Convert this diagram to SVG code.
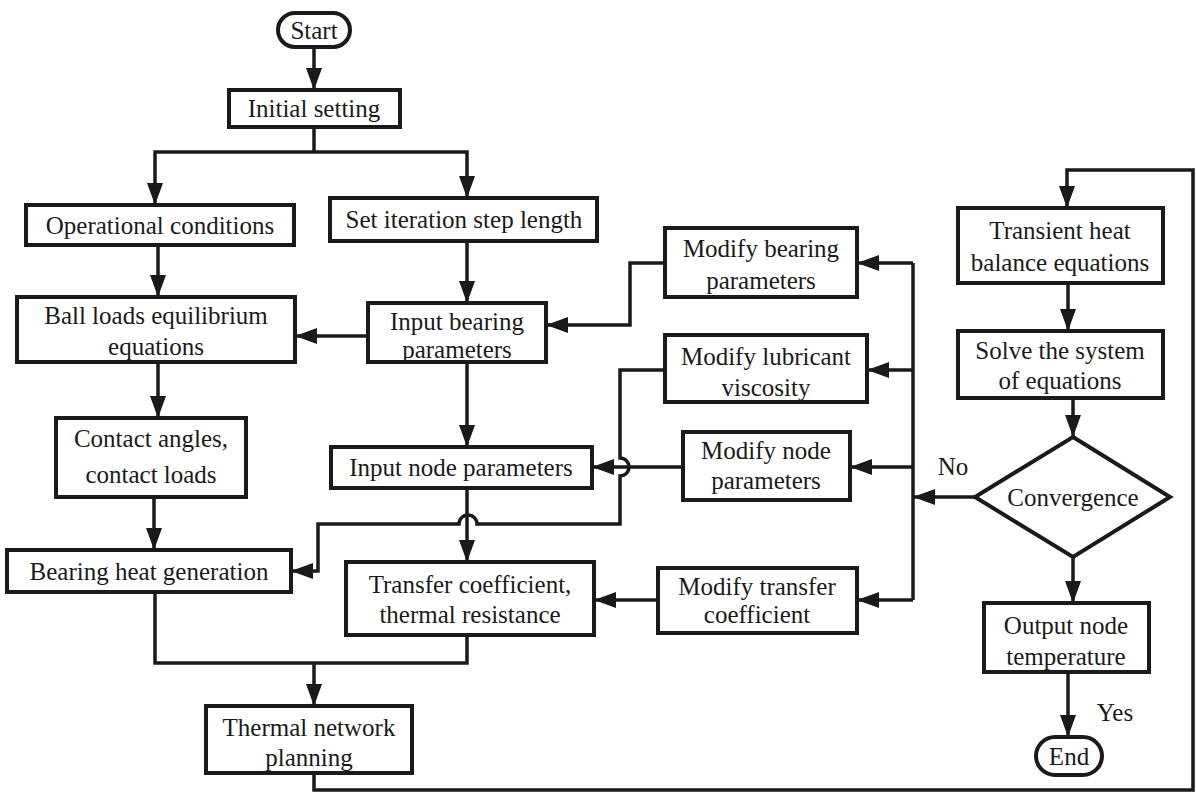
<svg xmlns="http://www.w3.org/2000/svg" width="1197" height="793" viewBox="0 0 1197 793">
<defs>
<style>
.b{fill:#fff;stroke:#1a1a1a;stroke-width:4}
.t{font-family:"Liberation Serif","Times New Roman",serif;font-size:25px;fill:#1a1a1a;text-anchor:middle}
.c{fill:none;stroke:#1a1a1a;stroke-width:3.5}
.a{marker-end:url(#ah)}
</style>
<marker id="ah" markerUnits="userSpaceOnUse" markerWidth="22" markerHeight="16" refX="22" refY="8" orient="auto">
<path d="M0,0 L22,8 L0,16 z" fill="#1a1a1a"/>
</marker>
</defs>
<rect width="1197" height="793" fill="#fff"/>
<g id="connectors">
<path class="c a" d="M314,47 V90"/>
<path class="c" d="M314,127 V152"/>
<path class="c a" d="M314,152 H155 V205"/>
<path class="c a" d="M314,152 H467 V198"/>
<path class="c a" d="M158,245 V297"/>
<path class="c a" d="M467,241 V303"/>
<path class="c a" d="M368,336 H295"/>
<path class="c a" d="M665,263 H630 V325 H546"/>
<path class="c a" d="M467,362 V447"/>
<path class="c a" d="M158,362 V418"/>
<path class="c a" d="M154,497 V550"/>
<path class="c a" d="M665,370 H620 V458 A9,9 0 0 1 620,476 V524 H477 A9,9 0 0 0 459,524 H318 V571 H291"/>
<path class="c a" d="M467,488 V562"/>
<path class="c a" d="M683,467 H592"/>
<path class="c a" d="M658,600 H594"/>
<path class="c" d="M913,263 V600"/>
<path class="c a" d="M975,497 H913"/>
<path class="c a" d="M913,263 H857"/>
<path class="c a" d="M913,370 H867"/>
<path class="c a" d="M913,467 H850"/>
<path class="c a" d="M913,600 H857"/>
<path class="c" d="M155,592 V663 H467 V635"/>
<path class="c a" d="M314,663 V706"/>
<path class="c a" d="M314,773 V790 H1193 V170 H1067 V208"/>
<path class="c a" d="M1068,283 V331"/>
<path class="c a" d="M1073,398 V437"/>
<path class="c a" d="M1073,557 V603"/>
<path class="c a" d="M1068,672 V737"/>
<text class="t" x="953" y="475">No</text>
<text class="t" x="1115" y="721">Yes</text>
</g>
<g id="start"><rect class="b" x="278" y="13" width="72" height="34" rx="17"/><text class="t" x="314" y="39">Start</text></g>
<g id="initial"><rect class="b" x="229" y="90" width="171" height="37"/><text class="t" x="314" y="117">Initial setting</text></g>
<g id="operational"><rect class="b" x="26" y="205" width="268" height="40"/><text class="t" x="160" y="234">Operational conditions</text></g>
<g id="setiter"><rect class="b" x="330" y="198" width="267" height="43"/><text class="t" x="464" y="228">Set iteration step length</text></g>
<g id="ballloads"><rect class="b" x="17" y="297" width="278" height="65"/><text class="t" x="156" y="324">Ball loads equilibrium</text><text class="t" x="156" y="355">equations</text></g>
<g id="inputbearing"><rect class="b" x="368" y="303" width="178" height="59"/><text class="t" x="457" y="330">Input bearing</text><text class="t" x="457" y="358">parameters</text></g>
<g id="modbearing"><rect class="b" x="665" y="228" width="192" height="69"/><text class="t" x="761" y="257">Modify bearing</text><text class="t" x="761" y="289">parameters</text></g>
<g id="modlub"><rect class="b" x="665" y="335" width="202" height="67"/><text class="t" x="766" y="365">Modify lubricant</text><text class="t" x="766" y="396">viscosity</text></g>
<g id="inputnode"><rect class="b" x="331" y="447" width="261" height="41"/><text class="t" x="461" y="476">Input node parameters</text></g>
<g id="modnode"><rect class="b" x="683" y="432" width="167" height="68"/><text class="t" x="766" y="459">Modify node</text><text class="t" x="766" y="489">parameters</text></g>
<g id="contact"><rect class="b" x="56" y="418" width="190" height="79"/><text class="t" x="151" y="447">Contact angles,</text><text class="t" x="151" y="483">contact loads</text></g>
<g id="heatgen"><rect class="b" x="7" y="550" width="284" height="42"/><text class="t" x="149" y="580">Bearing heat generation</text></g>
<g id="transfer"><rect class="b" x="346" y="562" width="248" height="73"/><text class="t" x="470" y="593">Transfer coefficient,</text><text class="t" x="470" y="623">thermal resistance</text></g>
<g id="modtransfer"><rect class="b" x="658" y="568" width="199" height="65"/><text class="t" x="757" y="595">Modify  transfer</text><text class="t" x="757" y="623">coefficient</text></g>
<g id="thermalnet"><rect class="b" x="206" y="706" width="206" height="67"/><text class="t" x="309" y="736">Thermal network</text><text class="t" x="309" y="766">planning</text></g>
<g id="transient"><rect class="b" x="958" y="208" width="205" height="75"/><text class="t" x="1060" y="239">Transient heat</text><text class="t" x="1060" y="271">balance equations</text></g>
<g id="solve"><rect class="b" x="958" y="331" width="205" height="67"/><text class="t" x="1060" y="359">Solve the system</text><text class="t" x="1060" y="389">of equations</text></g>
<g id="convergence"><polygon class="b" points="1073,437 1170,497 1073,557 975,497"/><text class="t" x="1073" y="506">Convergence</text></g>
<g id="output"><rect class="b" x="984" y="603" width="165" height="69"/><text class="t" x="1066" y="634">Output node</text><text class="t" x="1066" y="665">temperature</text></g>
<g id="end"><rect class="b" x="1036" y="737" width="66" height="38" rx="19"/><text class="t" x="1069" y="765">End</text></g>
</svg>
